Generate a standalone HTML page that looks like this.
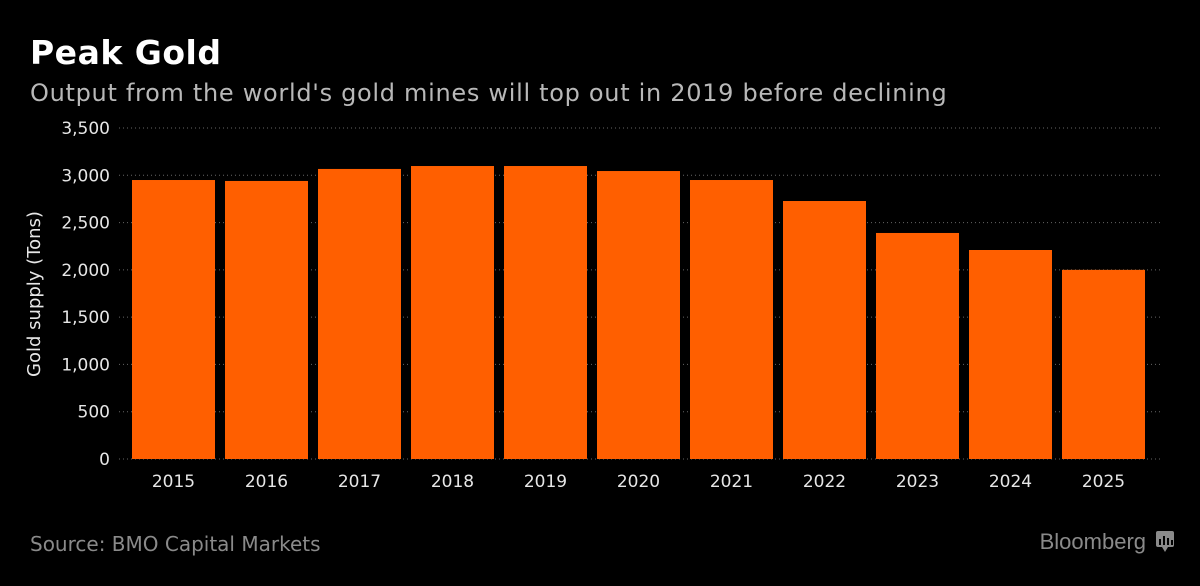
<!DOCTYPE html>
<html><head><meta charset="utf-8"><style>
html,body{margin:0;padding:0;background:#000;width:1200px;height:586px;overflow:hidden}
svg{display:block}
</style></head><body>
<svg width="1200" height="586" xmlns="http://www.w3.org/2000/svg" font-family="'DejaVu Sans','Liberation Sans',sans-serif">
<rect width="1200" height="586" fill="#000"/>
<text x="30" y="64" fill="#fff" font-size="33" font-weight="bold" letter-spacing="0.5">Peak Gold</text>
<text x="30" y="101" fill="#b8b8b8" font-size="24" letter-spacing="0.7">Output from the world's gold mines will top out in 2019 before declining</text>
<text transform="translate(40,294) rotate(-90)" fill="#e6e6e6" font-size="18" text-anchor="middle">Gold supply (Tons)</text>
<g id="grid"></g>
<g id="bars"></g>
<g id="xlabels"></g>
<text x="30" y="551" fill="#8a8a8a" font-size="20">Source: BMO Capital Markets</text>
<text x="1146" y="549" fill="#8a8a8a" font-size="22" font-family="'Liberation Sans',sans-serif" text-anchor="end">Bloomberg</text>
<g>
<rect x="1156" y="531" width="18" height="16" rx="2" fill="#8a8a8a"/>
<path d="M1162 547 L1165 552 L1168 547Z" fill="#8a8a8a"/>
<rect x="1159" y="539" width="2" height="6" fill="#000"/><rect x="1163" y="536" width="2" height="9" fill="#000"/><rect x="1167" y="538" width="2" height="7" fill="#000"/><rect x="1171" y="540" width="2" height="5" fill="#000"/>
</g>
</svg>
<script>
const categories=["2015","2016","2017","2018","2019","2020","2021","2022","2023","2024","2025"];
const supplyValues=[2950,2940,3067,3098,3098,3045,2950,2728,2390,2210,2000];
const yTicks=[0,500,1000,1500,2000,2500,3000,3500];
const yTickLabels=["0","500","1,000","1,500","2,000","2,500","3,000","3,500"];
const NS="http://www.w3.org/2000/svg";
const y0=459,yTop=128,yMax=3500;
function yScale(v){return y0-(v/yMax)*(y0-yTop);}
const xStart=132,pitch=93,barW=83;
function xScale(i){return xStart+i*pitch;}
const grid=document.getElementById('grid');
yTicks.forEach((t,i)=>{
 const l=document.createElementNS(NS,'line');
 l.setAttribute('x1',119);l.setAttribute('x2',1160);
 l.setAttribute('y1',yScale(t));l.setAttribute('y2',yScale(t));
 l.setAttribute('stroke','#666');l.setAttribute('stroke-dasharray','1 3');
 
 
 grid.appendChild(l);
 const tx=document.createElementNS(NS,'text');
 tx.setAttribute('x',110);tx.setAttribute('y',yScale(t)+6);
 tx.setAttribute('fill','#e6e6e6');tx.setAttribute('font-size','17');tx.setAttribute('text-anchor','end');
 tx.textContent=yTickLabels[i];
 
 
 grid.appendChild(tx);
});
const bars=document.getElementById('bars'),xl=document.getElementById('xlabels');
categories.forEach((c,i)=>{
 const r=document.createElementNS(NS,'rect');
 r.setAttribute('x',xScale(i));r.setAttribute('width',barW);
 r.setAttribute('y',yScale(supplyValues[i]));r.setAttribute('height',y0-yScale(supplyValues[i]));
 r.setAttribute('fill','#ff5f00');
 
 
 bars.appendChild(r);
 const t=document.createElementNS(NS,'text');
 t.setAttribute('x',xScale(i)+barW/2);t.setAttribute('y',487);
 t.setAttribute('fill','#e6e6e6');t.setAttribute('font-size','17');t.setAttribute('text-anchor','middle');
 t.textContent=c;
 
 
 xl.appendChild(t);
});
</script>
</body></html>
